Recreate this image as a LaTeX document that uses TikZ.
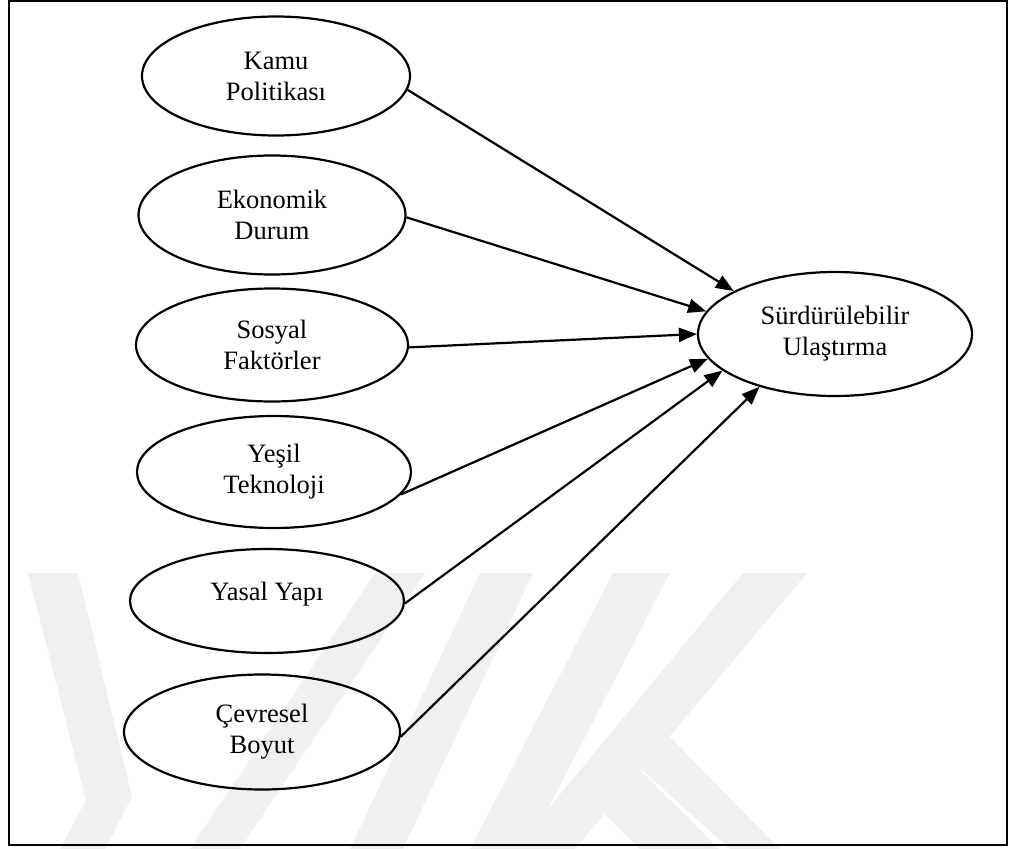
\documentclass[tikz,border=0pt]{standalone}
\usepackage{fontspec}
\setmainfont{Liberation Serif}
\usetikzlibrary{shapes.geometric,arrows.meta}
\begin{document}
\begin{tikzpicture}[x=1pt,y=-1pt,
  oval/.style={ellipse,draw,line width=2.2pt,inner sep=0pt,align=center,
    font=\fontsize{26.5pt}{31pt}\selectfont},
  link/.style={line width=2.2pt,-{Triangle[length=18pt,width=14pt]}},
  wmark/.style={fill=black!6}
]
\useasboundingbox (0,0) rectangle (1013,849);

% faint background logo stripes
\fill[wmark] (28,573) -- (78,573) -- (132,797) -- (105,849) -- (60,849) -- (86,800) -- cycle;
\fill[wmark] (375,573) -- (425,573) -- (240,849) -- (190,849) -- cycle;
\fill[wmark] (480,573) -- (533,573) -- (403,849) -- (350,849) -- cycle;
\fill[wmark] (613,573) -- (670,573) -- (527,849) -- (470,849) -- cycle;
\fill[wmark] (743,573) -- (807,573) -- (575,849) -- (515,849) -- cycle;
\fill[wmark] (655,722) -- (780,849) -- (730,849) -- (622,752) -- cycle;
\fill[wmark] (575,785) -- (623,753) -- (719,849) -- (640,849) -- cycle;

% frame
\draw[line width=2.2pt] (9,1) rectangle (1007,845);

% factors
\node[oval,minimum width=268pt,minimum height=119pt] (kamu) at (276,76) {Kamu\\Politikası};
\node[oval,minimum width=267pt,minimum height=119pt] (ekonomi) at (272,215) {Ekonomik\\Durum};
\node[oval,minimum width=272pt,minimum height=113pt] (sosyal) at (272,345) {Sosyal\\Faktörler};
\node[oval,minimum width=274pt,minimum height=112pt] (yesil) at (274,472) {Yeşil\\Teknoloji};
\node[oval,minimum width=274pt,minimum height=104pt,text height=18pt,text depth=19.5pt] (yasal) at (267,601) {Yasal Yapı};
\node[oval,minimum width=276pt,minimum height=115pt] (cevre) at (262,732) {Çevresel\\Boyut};

% outcome
\node[oval,minimum width=274pt,minimum height=124pt] (hedef) at (835,334) {Sürdürülebilir\\Ulaştırma};

% paths
\draw[link] (kamu.-6) -- (hedef.157);
\draw[link] (ekonomi.-1.7) -- (hedef.170.6);
\draw[link] (sosyal.-1.3) -- (hedef.180.4);
\draw[link] (yesil.-10) -- (hedef.191.5);
\draw[link] (yasal.-1.7) -- (hedef.198.9);
\draw[link] (cevre.-2.5) -- (hedef.215.5);
\end{tikzpicture}
\end{document}
